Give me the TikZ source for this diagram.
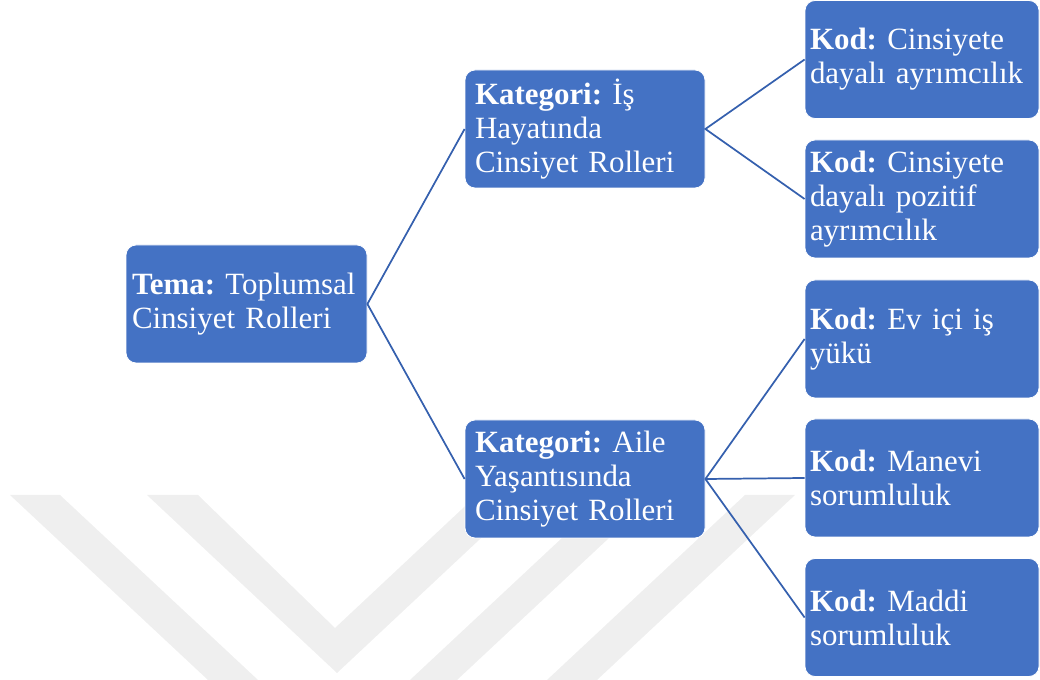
\documentclass[tikz,border=0pt]{standalone}
\usepackage{fontspec}
\setmainfont{Liberation Serif}
\frenchspacing
\definecolor{boxblue}{HTML}{4472C4}
\definecolor{linkblue}{HTML}{3560AE}
\definecolor{markgrey}{HTML}{EFEFEF}
\begin{document}
\begin{tikzpicture}[x=0.75pt,y=-0.75pt,
  card/.style={rectangle, rounded corners=7.5pt, fill=boxblue, draw=white,
    line width=0.6pt, text=white, align=left, minimum height=88.5pt,
    inner ysep=0pt, font=\fontsize{23.2pt}{25.5pt}\selectfont},
  temabox/.style={card, minimum width=180.75pt, text width=171.75pt, inner xsep=4.5pt},
  katbox/.style={card, minimum width=180pt, text width=165pt, inner xsep=7.5pt},
  kodbox/.style={card, minimum width=175.5pt, text width=168pt, inner xsep=3.75pt},
  link/.style={draw=linkblue, line width=1.3pt}]
\useasboundingbox (0,0) rectangle (1040,680);

% faint background pattern
\fill[markgrey] (10,495) -- (60,495) -- (258,680) -- (208,680) -- cycle;
\fill[markgrey] (147,495) -- (198,495) -- (335,628) -- (477,495) -- (527,495) -- (337,673) -- cycle;
\fill[markgrey] (608,495) -- (655,495) -- (457,680) -- (410,680) -- cycle;
\fill[markgrey] (745,495) -- (795,495) -- (597,680) -- (547,680) -- cycle;

% theme, categories and codes
\node[temabox] (tema) at (246.5,304) {\textbf{Tema:} Toplumsal\\Cinsiyet Rolleri};
\node[katbox] (kat1) at (585,129) {\textbf{Kategori:} İş\\Hayatında\\Cinsiyet Rolleri};
\node[katbox] (kat2) at (585,479) {\textbf{Kategori:} Aile\\Yaşantısında\\Cinsiyet Rolleri};
\node[kodbox] (kod1) at (922,59.5) {\textbf{Kod:} Cinsiyete\\dayalı ayrımcılık};
\node[kodbox] (kod2) at (922,199) {\textbf{Kod:} Cinsiyete\\dayalı pozitif\\ayrımcılık};
\node[kodbox] (kod3) at (922,339) {\textbf{Kod:} Ev içi iş\\yükü};
\node[kodbox] (kod4) at (922,478) {\textbf{Kod:} Manevi\\sorumluluk};
\node[kodbox] (kod5) at (922,617.5) {\textbf{Kod:} Maddi\\sorumluluk};

% connectors
\draw[link] (kat1.west) -- (tema.east) -- (kat2.west);
\draw[link] (kod1.west) -- (kat1.east) -- (kod2.west);
\draw[link] (kod3.west) -- (kat2.east) -- (kod5.west);
\draw[link] (kat2.east) -- (kod4.west);
\end{tikzpicture}
\end{document}
